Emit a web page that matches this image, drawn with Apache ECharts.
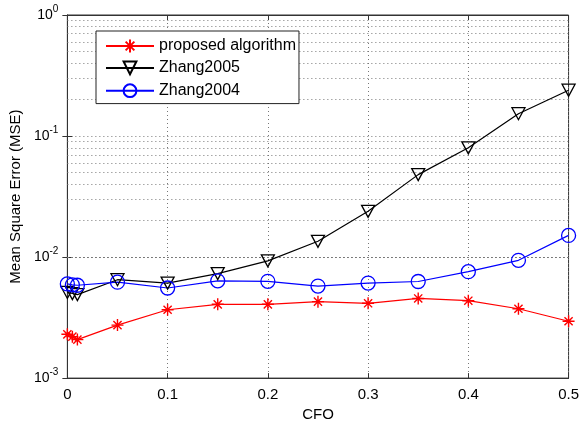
<!DOCTYPE html>
<html>
<head>
<meta charset="utf-8">
<script src="https://cdn.jsdelivr.net/npm/echarts@6/dist/echarts.min.js"></script>
<style>
html, body { margin: 0; padding: 0; background: #fff; }
#chart { width: 582px; height: 427px; }
</style>
</head>
<body>
<div id="chart"></div>
<script>
// CFO values (x)
const cfo = [0, 0.005, 0.01, 0.05, 0.1, 0.15, 0.2, 0.25, 0.3, 0.35, 0.4, 0.45, 0.5];
// MSE values
const proposed = [2.3e-3, 2.2e-3, 2.08e-3, 2.74e-3, 3.67e-3, 4.07e-3, 4.07e-3, 4.28e-3, 4.15e-3, 4.55e-3, 4.36e-3, 3.74e-3, 2.95e-3];
const zhang2005 = [5.1e-3, 5.0e-3, 4.9e-3, 6.5e-3, 6.1e-3, 7.3e-3, 9.3e-3, 1.35e-2, 2.39e-2, 4.8e-2, 8.0e-2, 0.153, 0.239];
const zhang2004 = [6.0e-3, 5.9e-3, 5.85e-3, 6.2e-3, 5.55e-3, 6.36e-3, 6.3e-3, 5.76e-3, 6.1e-3, 6.28e-3, 7.57e-3, 9.4e-3, 1.51e-2];
const seriesNames = ['proposed algorithm', 'Zhang2005', 'Zhang2004'];
const yDecades = [0.001, 0.01, 0.1, 1];

const font = 'Liberation Sans, Arial, sans-serif';
const gridDot = { color: '#777', type: [1, 3], width: 1 };

// minor log grid lines (2..9 x 10^d)
const minorLevels = [];
for (let i = 0; i < yDecades.length - 1; i++) {
	for (let k = 2; k <= 9; k++) minorLevels.push(k * yDecades[i]);
}

const pairs = (ys) => cfo.map((x, i) => [x, ys[i]]);

const asterisk = 'path://M5,0L5,10M0,5L10,5M1.6,1.6L8.4,8.4M1.6,8.4L8.4,1.6';
const triDown = 'path://M0,0L10,0L5,9Z';

let myChart = echarts.init(document.getElementById('chart'));
myChart.setOption({
	animation: false,
	textStyle: { fontFamily: font },
	grid: { left: 67, right: 12, top: 15, bottom: 39, show: true, borderColor: '#333', borderWidth: 1 },
	legend: {
		data: seriesNames,
		orient: 'vertical',
		left: 96,
		top: 31,
		backgroundColor: '#fff',
		borderColor: '#222',
		borderWidth: 1,
		borderRadius: 0,
		padding: [7, 3, 4, 9],
		itemWidth: 48,
		itemHeight: 16,
		itemGap: 5,
		textStyle: { fontSize: 16, color: '#000', fontFamily: font },
	},
	xAxis: [
		{
			type: 'value',
			min: 0,
			max: 0.5,
			interval: 0.1,
			name: 'CFO',
			nameLocation: 'middle',
			nameGap: 25,
			nameTextStyle: { fontSize: 15, color: '#000' },
			axisLine: { lineStyle: { color: '#333' } },
			axisTick: { inside: true, length: 5, lineStyle: { color: '#333' } },
			axisLabel: { fontSize: 15, color: '#000', margin: 9 },
			splitLine: { show: true, lineStyle: gridDot },
		},
		{
			type: 'value',
			position: 'top',
			min: 0,
			max: 0.5,
			interval: 0.1,
			axisLine: { lineStyle: { color: '#333' } },
			axisTick: { inside: true, length: 5, lineStyle: { color: '#333' } },
			axisLabel: { show: false },
			splitLine: { show: false },
		},
	],
	yAxis: [
		{
			type: 'log',
			logBase: 10,
			min: 0.001,
			max: 1,
			name: 'Mean Square Error (MSE)',
			nameLocation: 'middle',
			nameGap: 40,
			nameTextStyle: { fontSize: 15, color: '#000' },
			axisLine: { show: true, lineStyle: { color: '#333' } },
			axisTick: { show: true, inside: true, length: 5, lineStyle: { color: '#333' } },
			axisLabel: {
				margin: 9,
				formatter: (v) => '{b|10}{s|' + Math.round(Math.log10(v)) + '}',
				rich: {
					b: { fontSize: 14, color: '#000', lineHeight: 22, fontFamily: font },
					s: { fontSize: 10, color: '#000', verticalAlign: 'top', fontFamily: font },
				},
			},
			splitLine: { show: true, lineStyle: gridDot },
		},
		{
			type: 'log',
			logBase: 10,
			min: 0.001,
			max: 1,
			position: 'right',
			axisLine: { show: true, lineStyle: { color: '#333' } },
			axisTick: { show: true, inside: true, length: 5, lineStyle: { color: '#333' } },
			axisLabel: { show: false },
			splitLine: { show: false },
		},
	],
	series: [
		{
			name: 'grid',
			type: 'line',
			data: [],
			silent: true,
			markLine: {
				silent: true,
				z: 1,
				symbol: 'none',
				label: { show: false },
				lineStyle: gridDot,
				data: minorLevels.map((v) => ({ yAxis: v })),
			},
		},
		{
			name: seriesNames[0],
			type: 'line',
			z: 4,
			data: pairs(proposed),
			symbol: asterisk,
			symbolSize: 12,
			lineStyle: { color: '#ff0000', width: 1.2 },
			itemStyle: { color: '#ff0000', borderColor: '#ff0000', borderWidth: 1.4 },
		},
		{
			name: seriesNames[1],
			type: 'line',
			z: 3,
			data: pairs(zhang2005),
			symbol: triDown,
			symbolSize: [13, 12],
			lineStyle: { color: '#000', width: 1.2 },
			itemStyle: { color: 'none', borderColor: '#000', borderWidth: 1.3 },
		},
		{
			name: seriesNames[2],
			type: 'line',
			z: 3,
			data: pairs(zhang2004),
			symbol: 'circle',
			symbolSize: 14,
			lineStyle: { color: '#0000ff', width: 1.2 },
			itemStyle: { color: 'none', borderColor: '#0000ff', borderWidth: 1.3 },
		},
	],
});
</script>
</body>
</html>
